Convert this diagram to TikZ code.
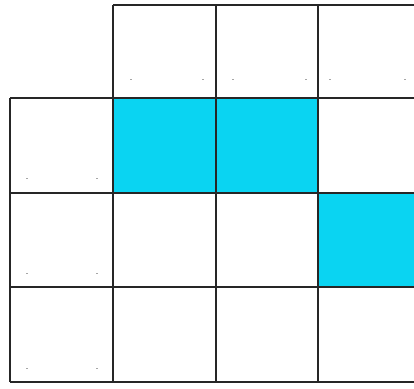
\documentclass[tikz,border=0pt]{standalone}
\begin{document}
\begin{tikzpicture}[x=1pt,y=-1pt,
  gridline/.style={line width=2.2pt,draw=black!85},
  bluecell/.style={fill={rgb,255:red,10;green,212;blue,242}},
  speck/.style={fill=black!35,draw=none}]
\useasboundingbox[fill=white] (0,0) rectangle (414,388);
% blue cells
\fill[bluecell] (113,98) rectangle (216,193);
\fill[bluecell] (216,98) rectangle (318,193);
\fill[bluecell] (318,193) rectangle (414,287);
% grid lines: horizontal
\draw[gridline] (113,5) -- (414,5);
\draw[gridline] (10,98) -- (414,98);
\draw[gridline] (10,193) -- (414,193);
\draw[gridline] (10,287) -- (414,287);
\draw[gridline] (10,382) -- (414,382);
% vertical
\draw[gridline] (10,98) -- (10,382);
\draw[gridline] (113,5) -- (113,382);
\draw[gridline] (216,5) -- (216,382);
\draw[gridline] (318,5) -- (318,382);
% faint specks
\foreach \x in {131,203,233,306,330,405} \fill[speck] (\x-1,78.5) rectangle (\x+1,79.5);
\foreach \y in {178,273,368} {
  \fill[speck] (26,\y-0.5) rectangle (28,\y+0.5);
  \fill[speck] (96,\y-0.5) rectangle (98,\y+0.5);
}
\end{tikzpicture}
\end{document}
